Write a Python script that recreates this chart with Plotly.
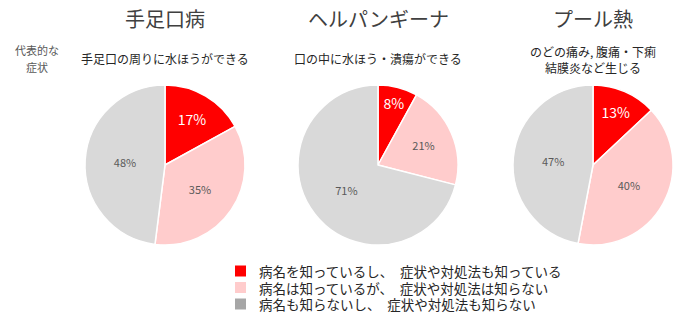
import plotly.graph_objects as go

diseases = ["手足口病", "ヘルパンギーナ", "プール熱"]
symptoms = [["手足口の周りに水ほうができる"], ["口の中に水ほう・潰瘍ができる"],
            ["のどの痛み, 腹痛・下痢", "結膜炎など生じる"]]
row_label = ["代表的な", "症状"]
categories = ["病名を知っているし、　症状や対処法も知っている",
              "病名は知っているが、　症状や対処法は知らない",
              "病名も知らないし、　症状や対処法も知らない"]
hfmd = [17, 35, 48]
herpangina = [8, 21, 71]
pool_fever = [13, 40, 47]
series = [hfmd, herpangina, pool_fever]

slice_colors = ["#FF0000", "#FFCCCC", "#D9D9D9"]
legend_colors = ["#FF0000", "#FFCCCC", "#A6A6A6"]
FONT = "Noto Sans CJK JP"
W, H = 679, 322

centers = [165, 378, 593]
cy, r = 165, 80

fig = go.Figure()
for vals, cx in zip(series, centers):
    fig.add_trace(go.Pie(
        labels=categories, values=vals, sort=False, direction="clockwise", rotation=0,
        marker=dict(colors=slice_colors, line=dict(color="white", width=1.5)),
        texttemplate="%{value}%", textposition="inside", insidetextorientation="horizontal",
        textfont=dict(family=FONT, color=["white", "#595959", "#595959"], size=[14, 11, 11]),
        domain=dict(x=[(cx - r) / W, (cx + r) / W], y=[1 - (cy + r) / H, 1 - (cy - r) / H]),
        showlegend=False, hoverinfo="label+percent",
    ))

for name, cx in zip(diseases, centers):
    fig.add_annotation(x=cx / W, y=1 - 18 / H, xref="paper", yref="paper", text=name,
                       showarrow=False, font=dict(family=FONT, size=20, color="#404040"),
                       xanchor="center", yanchor="middle")

for lines, cx in zip(symptoms, centers):
    ys = [59] if len(lines) == 1 else [52, 68]
    for s, yy in zip(lines, ys):
        fig.add_annotation(x=cx / W, y=1 - yy / H, xref="paper", yref="paper", text=s,
                           showarrow=False, font=dict(family=FONT, size=12, color="#262626"),
                           xanchor="center", yanchor="middle")

for s, yy in zip(row_label, [50, 67]):
    fig.add_annotation(x=37 / W, y=1 - yy / H, xref="paper", yref="paper", text=s,
                       showarrow=False, font=dict(family=FONT, size=11, color="#595959"),
                       xanchor="center", yanchor="middle")

leg_y = [271, 287.5, 304]
for cat, col, yy in zip(categories, legend_colors, leg_y):
    fig.add_shape(type="rect", xref="paper", yref="paper",
                  x0=235 / W, x1=246 / W, y0=1 - (yy + 5.5) / H, y1=1 - (yy - 5.5) / H,
                  fillcolor=col, line=dict(width=0))
    fig.add_annotation(x=257 / W, y=1 - yy / H, xref="paper", yref="paper", text=cat,
                       showarrow=False, font=dict(family=FONT, size=13.5, color="#262626"),
                       xanchor="left", yanchor="middle")

fig.update_layout(width=W, height=H, margin=dict(l=0, r=0, t=0, b=0),
                  paper_bgcolor="white", plot_bgcolor="white", showlegend=False,
                  font=dict(family=FONT))
fig.write_html("out.html")
